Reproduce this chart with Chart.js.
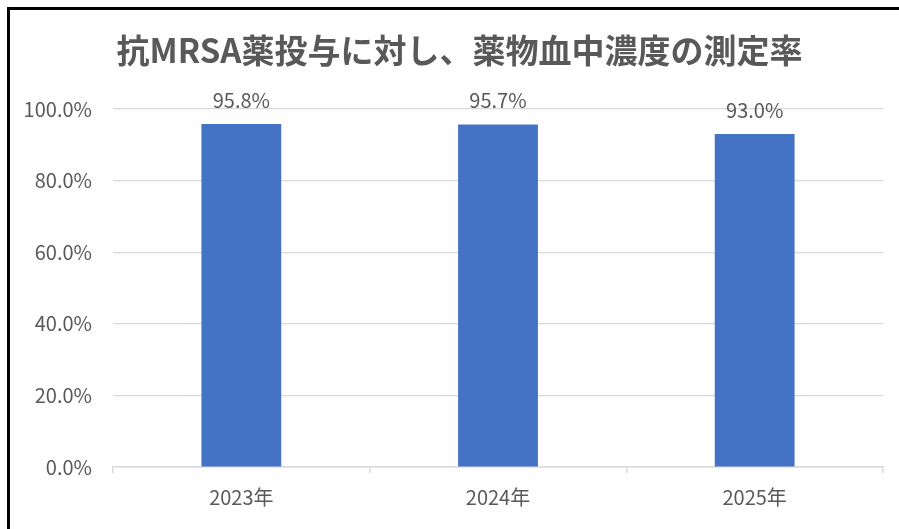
<!DOCTYPE html>
<html>
<head>
<meta charset="utf-8">
<script src="https://cdn.jsdelivr.net/npm/chart.js@4/dist/chart.umd.min.js"></script>
<style>
    html, body { margin: 0; padding: 0; background: #fff; }
    #wrap { position: relative; width: 899px; height: 529px; overflow: hidden; }
    #frame {
        position: absolute; left: 7px; top: 7px; width: 900px; height: 540px;
        border-left: 3px solid #000; border-top: 3px solid #000;
        pointer-events: none;
    }
    canvas { position: absolute; left: 0; top: 0; }
</style>
</head>
<body>
<div id="wrap">
    <canvas id="chart" width="899" height="529"></canvas>
    <div id="frame"></div>
</div>
<script>
    // chart data
    const categories = ['2023年', '2024年', '2025年'];
    const rates = [95.8, 95.7, 93.0];
    const yTicks = [0, 20, 40, 60, 80, 100];
    const titleText = '抗MRSA薬投与に対し、薬物血中濃度の測定率';

    const FONT = "'Noto Sans CJK JP', 'Noto Sans', sans-serif";
    const GRAY = '#595959';
    const LINE = '#d9d9d9';

    // value labels above each bar
    const valueLabels = {
        id: 'valueLabels',
        afterDatasetsDraw(chart) {
            const ctx = chart.ctx;
            const meta = chart.getDatasetMeta(0);
            ctx.save();
            ctx.font = '20px ' + FONT;
            ctx.fillStyle = GRAY;
            ctx.textAlign = 'center';
            ctx.textBaseline = 'middle';
            meta.data.forEach((bar, i) => {
                ctx.fillText(rates[i].toFixed(1) + '%', bar.x, bar.y - 24);
            });
            ctx.restore();
        }
    };

    // title drawn by hand so it can sit a little right of centre, like the original
    const chartTitle = {
        id: 'chartTitle',
        afterDraw(chart) {
            const ctx = chart.ctx;
            ctx.save();
            ctx.font = 'bold 33px ' + FONT;
            ctx.fillStyle = GRAY;
            ctx.textAlign = 'center';
            ctx.textBaseline = 'middle';
            ctx.fillText(titleText, chart.width / 2 + 10, 50);
            ctx.restore();
        }
    };

    new Chart(document.getElementById('chart'), {
        type: 'bar',
        data: {
            labels: categories,
            datasets: [{
                data: rates,
                backgroundColor: '#4472c4',
                categoryPercentage: 1,
                barPercentage: 0.311
            }]
        },
        options: {
            responsive: false,
            animation: false,
            layout: { padding: { left: 0, right: 16, top: 109, bottom: 8 } },
            plugins: {
                legend: { display: false },
                tooltip: { enabled: false },
                title: { display: false }
            },
            scales: {
                x: {
                    grid: {
                        offset: true,
                        drawOnChartArea: false,
                        drawTicks: true,
                        tickLength: 6,
                        color: LINE,
                        lineWidth: 1.5
                    },
                    border: { color: LINE, width: 1.5 },
                    ticks: {
                        color: GRAY,
                        padding: 12,
                        font: { family: FONT, size: 20 }
                    }
                },
                y: {
                    min: 0,
                    max: 100,
                    afterBuildTicks(scale) {
                        scale.ticks = yTicks.map(v => ({ value: v }));
                    },
                    afterFit(scale) { scale.width = 113; },
                    grid: { color: LINE, lineWidth: 1.2, drawTicks: false },
                    border: { display: false },
                    ticks: {
                        color: GRAY,
                        padding: 21,
                        font: { family: FONT, size: 20 },
                        callback: v => v.toFixed(1) + '%'
                    }
                }
            }
        },
        plugins: [valueLabels, chartTitle]
    });
</script>
</body>
</html>
